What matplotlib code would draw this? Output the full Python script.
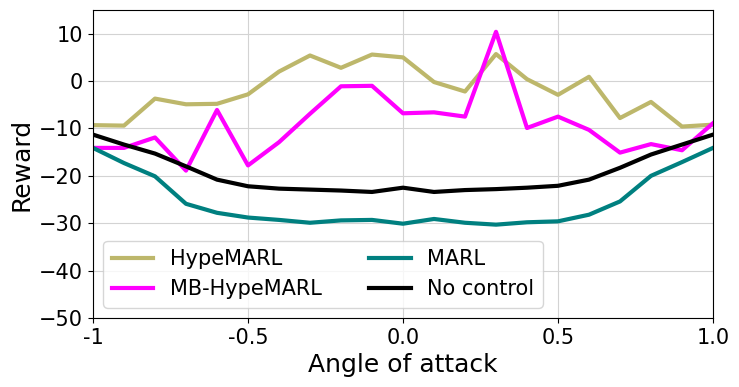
import matplotlib
matplotlib.use("Agg")
import matplotlib.pyplot as plt
import numpy as np

angles = [-1.0, -0.9, -0.8, -0.7, -0.6, -0.5, -0.4, -0.3, -0.2, -0.1, 0.0,
          0.1, 0.2, 0.3, 0.4, 0.5, 0.6, 0.7, 0.8, 0.9, 1.0]
hypemarl = [-9.3, -9.4, -3.7, -4.9, -4.8, -2.8, 2.0, 5.4, 2.8, 5.6, 5.0,
            -0.2, -2.2, 5.7, 0.4, -2.9, 0.9, -7.8, -4.4, -9.6, -9.2]
mb_hypemarl = [-14.1, -14.1, -11.9, -18.9, -6.1, -17.8, -12.9, -6.9, -1.1, -1.0, -6.8,
               -6.6, -7.5, 10.4, -9.9, -7.5, -10.3, -15.1, -13.3, -14.6, -8.9]
marl = [-14.1, -17.3, -20.1, -25.9, -27.8, -28.8, -29.3, -29.9, -29.4, -29.3, -30.1,
        -29.1, -29.9, -30.3, -29.8, -29.6, -28.2, -25.4, -20.0, -17.1, -14.1]
no_control = [-11.3, -13.4, -15.3, -18.0, -20.8, -22.2, -22.7, -22.9, -23.1, -23.4, -22.5,
              -23.4, -23.0, -22.8, -22.5, -22.1, -20.8, -18.3, -15.5, -13.4, -11.3]

xtick_vals = [-1.0, -0.5, 0.0, 0.5, 1.0]
xtick_labels = ["-1", "-0.5", "0.0", "0.5", "1.0"]

fig = plt.figure(figsize=(7.39, 3.87), dpi=100)
ax = fig.add_axes([93/739, 1 - 318/387, 620/739, 308/387])
lw = 3
ax.plot(angles, hypemarl, color="#BDB76B", lw=lw, label="HypeMARL")
ax.plot(angles, mb_hypemarl, color="#FF00FF", lw=lw, label="MB-HypeMARL")
ax.plot(angles, marl, color="#008080", lw=lw, label="MARL")
ax.plot(angles, no_control, color="black", lw=lw, label="No control")

ax.set_xlim(-1, 1)
ax.set_ylim(-50, 15)
ax.set_xticks(xtick_vals)
ax.set_xticklabels(xtick_labels)
ax.set_yticks([10, 0, -10, -20, -30, -40, -50])
ax.tick_params(labelsize=15)
ax.grid(True, color="#d3d3d3", lw=0.8)
ax.set_xlabel("Angle of attack", fontsize=18)
ax.set_ylabel("Reward", fontsize=18)
ax.legend(loc="lower left", ncol=2, fontsize=15, columnspacing=2.25)

fig.savefig("out.png", dpi=100)
